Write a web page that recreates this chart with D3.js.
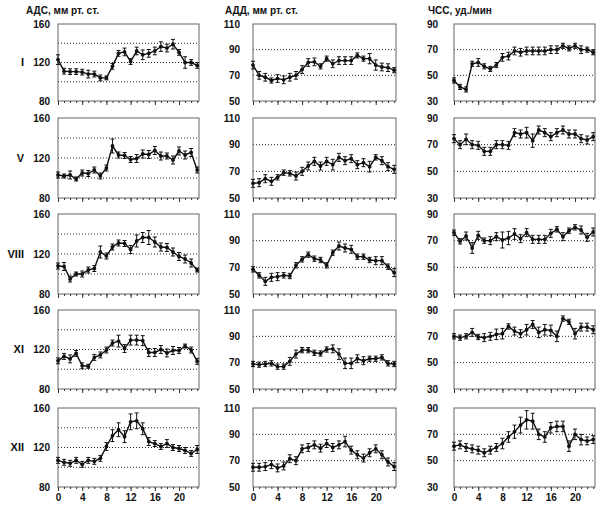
<!DOCTYPE html>
<html><head><meta charset="utf-8">
<script src="https://cdn.jsdelivr.net/npm/d3@7"></script>
<style>
body{margin:0;background:#fff}
text{font-family:"Liberation Sans",Arial,sans-serif;font-weight:bold;fill:#111}
</style>
</head><body>
<svg id="c" width="600" height="508"></svg>
<script>
// ---------- data ----------
const hours = [0,1,2,3,4,5,6,7,8,9,10,11,12,13,14,15,16,17,18,19,20,21,22,23];
const rowLabels = ["I","V","VIII","XI","XII"];
const colTitles = ["АДС, мм рт. ст.","АДД, мм рт. ст.","ЧСС, уд./мин"];
const xTickLabels = [0,4,8,12,16,20];
const yTicksADS = [80,120,160];
const yTicksADD = [50,70,90,110];
const yTicksHR  = [30,50,70,90];
const gridADS = [100,120,140];
const gridADD = [70,90];
const gridHR  = [50,70];

// АДС (systolic)
const adsI    = [123,111,110.5,110.5,110,108,108,104,104,116,129.5,131,121,132,128,129.5,132,136.5,135,139,130.5,120,120,117];
const adsIErr = [5,3,3,3,3,4,3,3,2,3,3,4,3,4,5,4,4,5,4,5,3,6,3,3];
const adsV    = [103,102,103,99,105,104.5,108,102,110,132,123,122.5,118.5,119.5,124,123.5,127.5,122,122,118,127,123,125.5,108];
const adsVErr = [3,2,4,2,3,3,3,3,3,7,3,3,3,4,4,4,4,4,3,4,4,4,4,3];
const adsVIII    = [108,107.5,95,100,100,104,105.5,122,118,127,131,130.5,124.5,133,136.5,136.5,132,127,126.5,122,117.5,115,111,104];
const adsVIIIErr = [3,4,3,2,3,3,3,6,3,3,3,3,4,6,5,7,5,4,4,4,4,4,4,2];
const adsXI    = [108.5,113,110.5,116,103.5,103,112,114.5,119.5,126.5,128.5,121,129.5,129.5,129,117,117,120,116.5,119,119,123.5,119.5,108];
const adsXIErr = [3,3,4,3,3,2,3,3,3,3,6,4,5,5,5,4,4,4,4,4,3,2,3,3];
const adsXII    = [107,105,104,107,103,107,106,109,121,132,138,131,146,147,139,126,124,121,124,120,119,117,114,118];
const adsXIIErr = [3,3,3,3,3,3,3,3,4,6,7,6,8,8,6,4,3,3,4,3,3,3,3,4];

// АДД (diastolic)
const addI    = [78,70,68.5,66,67.5,66.5,68.5,70,74.5,80,80.5,77,83,79,81.5,81.5,81.5,85.5,83,83,78,76.5,76,74];
const addIErr = [3,3,3,2,3,3,3,3,3,3,3,2,2,3,3,3,3,2,2,4,4,3,3,2];
const addV    = [61,61.5,64.5,62.5,65.5,69,68.5,66.5,70,74,77.5,74,77.5,75,80.5,78,79.5,75,76.5,73.5,80.5,78,73.5,71.5];
const addVErr = [3,3,3,3,2,2,2,3,3,3,3,3,3,4,3,3,3,3,3,4,2,3,3,3];
const addVIII    = [68.5,64,59.5,62.5,63,64,63.5,71.5,76,79.5,76.5,75.5,71.5,81,86,84.5,83.5,78,78,75.5,75,75,70.5,66];
const addVIIIErr = [2,2,3,3,3,2,2,2,2,2,2,2,2,2,3,3,3,2,2,2,3,3,2,3];
const addXI    = [69,68.5,69,69.5,67,67,71,76.5,79.5,79.5,77.5,77,80,80.5,76.5,69.5,69.5,73,71.5,73,73,74,69.5,69];
const addXIErr = [2,2,2,2,2,2,3,3,2,2,2,2,2,3,4,4,4,3,3,2,2,2,2,2];
const addXII    = [65,65,65.5,67,64.5,66,71.5,70,79,80,82,79.5,83,80,82,84.5,78,74.5,72,76,79,74.5,69,65.5];
const addXIIErr = [3,3,3,3,3,3,3,3,3,3,3,3,3,3,3,4,3,3,3,3,3,3,3,3];

// ЧСС (heart rate)
const hrI    = [46,41,39,59,60,57,55,58,64,65,69,68,69,69,69,69,70,70,73,71,73,70,70,68];
const hrIErr = [2,2,2,2,3,2,2,2,3,3,3,3,3,3,3,3,3,3,2,2,2,3,2,2];
const hrV    = [74.5,70,74,70,69.5,65,65,70,70,69.5,79,78,79,73,81,79,76,79,81,78,78,74.5,73.5,76];
const hrVErr = [3,3,4,3,3,3,3,3,3,3,3,3,4,5,3,3,3,3,3,3,3,3,3,3];
const hrVIII    = [76,69.5,73.5,64.5,74,70,70,73,70.5,72,75,71.5,76,71,71,71,75.5,78.5,73,77.5,80,78,72.5,76.5];
const hrVIIIErr = [2,2,3,4,3,2,3,3,6,5,4,3,3,3,3,3,3,2,3,2,2,3,3,3];
const hrXI    = [70,69,70,73,69.5,69,70,71.5,72,77.5,74,72,75,79,73,75,74.5,70,83.5,81,72,77,77,75];
const hrXIErr = [2,2,2,3,2,3,3,4,4,2,3,3,4,3,4,4,4,4,2,2,4,3,3,3];
const hrXII    = [61,62,60,59,58,56,58,60,63,68,72,77,81,80,70,68,75,76,76,61,70,66,65,66];
const hrXIIErr = [3,3,3,3,3,3,3,3,4,4,5,6,7,6,4,4,4,4,4,4,4,4,3,3];

// ---------- layout ----------
const cols = [
  {x0:58, x1:199, yDom:[80,160], ticks:yTicksADS, grid:gridADS, pad:8,  titleX:26},
  {x0:253,x1:396, yDom:[50,110], ticks:yTicksADD, grid:gridADD, pad:13, titleX:225},
  {x0:454,x1:595, yDom:[30,90],  ticks:yTicksHR,  grid:gridHR,  pad:16, titleX:428}
];
const rows = [[24,101],[118,198],[214,294],[310,389],[408,487]];
const series = [
  [[adsI,adsIErr],[addI,addIErr],[hrI,hrIErr]],
  [[adsV,adsVErr],[addV,addVErr],[hrV,hrVErr]],
  [[adsVIII,adsVIIIErr],[addVIII,addVIIIErr],[hrVIII,hrVIIIErr]],
  [[adsXI,adsXIErr],[addXI,addXIErr],[hrXI,hrXIErr]],
  [[adsXII,adsXIIErr],[addXII,addXIIErr],[hrXII,hrXIIErr]]
];

const svg = d3.select("#c");

cols.forEach((c,ci)=>{
  svg.append("text").attr("x",c.titleX).attr("y",14)
    .style("font-size","10px").text(colTitles[ci]);
});

rows.forEach((r,ri)=>{
  const yMidLabel = r[0];
  cols.forEach((c,ci)=>{
    const x = d3.scaleLinear().domain([0,23.3]).range([c.x0,c.x1]);
    const y = d3.scaleLinear().domain(c.yDom).range([r[1],r[0]]);
    const g = svg.append("g");
    // grid
    g.selectAll("line.grid").data(c.grid).join("line")
      .attr("x1",c.x0).attr("x2",c.x1)
      .attr("y1",d=>y(d)).attr("y2",d=>y(d))
      .attr("stroke","#222").attr("stroke-width",1)
      .attr("stroke-dasharray","1,2");
    // frame
    g.append("rect").attr("x",c.x0).attr("y",r[0])
      .attr("width",c.x1-c.x0).attr("height",r[1]-r[0])
      .attr("fill","none").attr("stroke","#666").attr("stroke-width",1);
    // y axis labels
    const ya = d3.axisLeft(y).tickValues(c.ticks).tickSize(0).tickPadding(c.pad);
    const yg = g.append("g").attr("transform",`translate(${c.x0},0)`).call(ya);
    yg.select(".domain").remove();
    yg.selectAll("text").style("font-size","10px").style("font-family","'Liberation Sans',Arial,sans-serif").style("font-weight","bold");
    // x minor ticks
    const xm = d3.axisBottom(x).tickValues(hours).tickSize(2).tickFormat("");
    const xmg = g.append("g").attr("transform",`translate(0,${r[1]})`).call(xm);
    xmg.select(".domain").remove();
    xmg.selectAll("line").attr("stroke","#333");
    // x major ticks
    const xM = d3.axisBottom(x).tickValues(xTickLabels).tickSize(4).tickPadding(3)
      .tickFormat(ri===rows.length-1 ? d3.format("d") : "");
    const xMg = g.append("g").attr("transform",`translate(0,${r[1]})`).call(xM);
    xMg.select(".domain").remove();
    xMg.selectAll("line").attr("stroke","#333");
    xMg.selectAll("text").style("font-size","10px").style("font-family","'Liberation Sans',Arial,sans-serif").style("font-weight","bold");

    const [vals, errs] = series[ri][ci];
    const pts = hours.map((h,i)=>({h, v:vals[i], e:errs[i]}));
    // error bars
    const eb = g.append("g").attr("stroke","#111").attr("stroke-width",1);
    eb.selectAll("line.v").data(pts).join("line")
      .attr("x1",d=>x(d.h)).attr("x2",d=>x(d.h))
      .attr("y1",d=>y(d.v+d.e)).attr("y2",d=>y(d.v-d.e));
    eb.selectAll("line.t").data(pts).join("line")
      .attr("x1",d=>x(d.h)-2).attr("x2",d=>x(d.h)+2)
      .attr("y1",d=>y(d.v+d.e)).attr("y2",d=>y(d.v+d.e));
    eb.selectAll("line.b").data(pts).join("line")
      .attr("x1",d=>x(d.h)-2).attr("x2",d=>x(d.h)+2)
      .attr("y1",d=>y(d.v-d.e)).attr("y2",d=>y(d.v-d.e));
    // line
    g.append("path").datum(pts)
      .attr("d",d3.line().x(d=>x(d.h)).y(d=>y(d.v)))
      .attr("fill","none").attr("stroke","#111").attr("stroke-width",1.4);
    // markers
    g.selectAll("circle").data(pts).join("circle")
      .attr("cx",d=>x(d.h)).attr("cy",d=>y(d.v)).attr("r",1.9).attr("fill","#111");
  });
  // row label
  const yr = d3.scaleLinear().domain(cols[0].yDom).range([r[1],r[0]]);
  svg.append("text").attr("x",24).attr("y",yr(120)).attr("dy","0.35em")
    .attr("text-anchor","end").style("font-size","11px").text(rowLabels[ri]);
});
</script>
</body></html>
